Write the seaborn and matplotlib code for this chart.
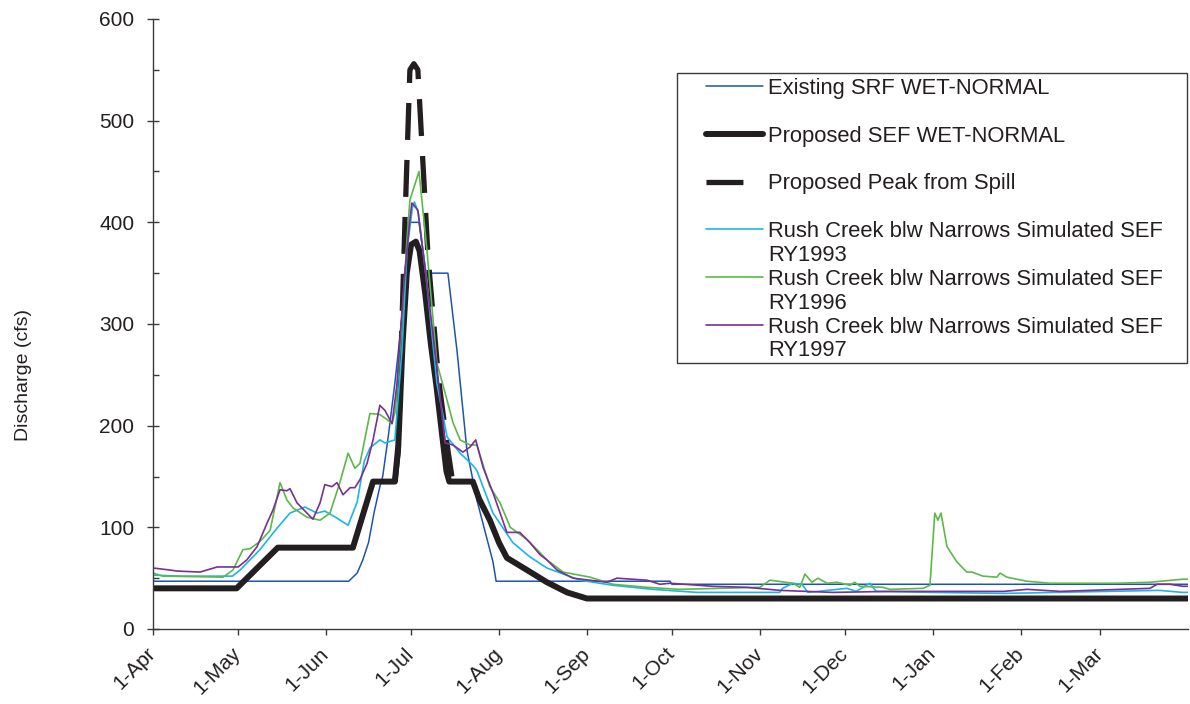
import matplotlib
matplotlib.use("Agg")
import matplotlib.pyplot as plt
import seaborn as sns
import pandas as pd
from matplotlib.lines import Line2D
from matplotlib.patches import Rectangle
from matplotlib.ticker import MultipleLocator

# Day of runoff year (0 = 1-Apr) and discharge (cfs) at the vertices of each hydrograph
existing_days = [0, 69, 72, 74, 76, 78, 80, 81, 83, 85.3, 87, 88.5, 90, 93.8, 96.3, 104,
                 107.2, 110.7, 114.2, 119.9, 121, 182.3, 183, 365]
existing_cfs = [47, 47, 55, 68, 85, 115, 140, 150, 190, 242, 285, 330, 400, 400, 350, 350,
                274, 176, 127, 66, 47, 47, 44, 44]

proposed_days = [0, 29.5, 44, 70.5, 77.6, 85.3, 86.5, 88, 89.5, 91, 92.7, 94, 96, 98, 100,
                 102, 103.5, 104.5, 112.8, 115, 118.8, 122, 124.8, 131.9, 138.9, 146, 153, 365]
proposed_cfs = [40, 40, 80, 80, 145, 145, 180, 280, 350, 378, 381, 372, 330, 280, 238,
                190, 155, 145, 145, 128, 107, 85, 70, 58, 46, 36, 30, 30]

spill_days = [85.3, 86.5, 87.8, 88.9, 90.6, 92, 93.4, 97, 100.1, 101.2, 104, 105.4, 106]
spill_cfs = [145, 175, 301, 405, 550, 556, 550, 366, 265, 235, 176, 150, 145]

ry1993_days = [0, 10, 20, 28, 30.7, 37.7, 43.7, 48.3, 53.6, 57.8, 60.6, 64.9, 68.8, 72,
               74.5, 76.5, 80, 81.8, 85.3, 87.8, 89.6, 91.5, 92.2, 93.5, 94, 96.6, 100.1,
               103.7, 108.3, 112.8, 114.2, 119.9, 126.9, 132.9, 138.9, 150.6, 162.2, 176.3,
               191.8, 221, 222, 225.7, 228.8, 231, 244.7, 248, 252.8, 255, 275, 300, 355,
               363, 365]
ry1993_cfs = [53, 52, 52, 52, 58, 78, 99, 114, 120, 114, 116, 109, 102, 125,
              165, 178, 186, 183, 186, 274, 373, 415, 420, 410, 400, 340, 242,
              189, 173, 161, 156, 114, 85, 71, 60, 48, 43, 39,
              36, 36, 40, 45, 44, 36, 40, 37, 45, 37, 36, 35, 38,
              36, 36]

ry1996_days = [0, 3.5, 24.7, 28.2, 31.7, 34.2, 37.7, 41.3, 44.8, 47.2, 49.4, 54.3, 58.9,
               62.4, 65.9, 68.8, 71.2, 73, 76.5, 80, 82.5, 84.3, 85.5, 87.5, 89.5, 90.6,
               93.8, 96.6, 100.1, 103.7, 105.8, 108.3, 111.8, 114.2, 118.8, 122.4, 126,
               131.9, 136.5, 138.9, 144.6, 154.1, 162.2, 174.2, 185.8, 214, 217.6, 225.7,
               228.1, 229.9, 232.4, 234.5, 237.7, 241.2, 245.8, 247.5, 249.3, 257.4, 259.9,
               271.5, 274, 275.7, 276.8, 277.9, 280, 283.5, 287, 288.8, 292.7, 297.6,
               298.7, 301.1, 308.2, 316.3, 340, 351.6, 363.2, 365]
ry1996_cfs = [55, 52, 51, 58, 78, 79, 86, 97, 144, 127, 119, 110, 107,
              114, 144, 173, 158, 163, 212, 211, 206, 202, 215, 290, 380, 422,
              450, 373, 262, 225, 203, 186, 181, 181, 140, 124, 100,
              88, 75, 68, 56, 51, 44, 41, 39, 41, 48, 45,
              41, 54, 46, 50, 45, 46, 43, 46, 42, 41, 39,
              40, 43, 114, 107, 114, 81, 66, 56, 56, 52, 51,
              55, 51, 47, 45, 45, 46, 49, 49]

ry1997_days = [0, 6, 8.5, 16.6, 22.6, 30, 33.1, 36.7, 40.2, 42.3, 44.8, 47.2, 48.3, 50.8,
               54.3, 56.4, 58.9, 60.6, 63.1, 64.9, 67, 69.5, 71.2, 73, 75.5, 77.6, 80,
               81.8, 84.3, 86, 88.5, 90.5, 91.3, 93.4, 96.6, 100.1, 103, 105.8, 109.3,
               111.8, 113.8, 116.4, 119.9, 124.8, 129.4, 132.9, 136.5, 138.9, 142.5,
               148.1, 160.1, 163.6, 174.2, 178.8, 182.3, 197.5, 209.4, 221.1, 239.8, 260,
               300, 308.2, 320, 351.6, 354.1, 358.7, 363.2, 365]
ry1997_cfs = [60, 58, 57, 56, 61, 61, 68, 81, 104, 117, 137, 136, 138, 124,
              114, 108, 124, 142, 140, 144, 132, 139, 139, 147, 163, 186, 220,
              215, 202, 240, 340, 400, 419, 412, 340, 258, 183, 181, 174,
              179, 186, 159, 134, 95, 95, 85, 73, 68, 58,
              50, 46, 50, 48, 44, 45, 42, 41, 38, 36, 37,
              37, 39, 37, 40, 44, 44, 42, 42]

month_days = [0, 30, 61, 91, 122, 153, 183, 214, 244, 275, 306, 334]
month_labels = ["1-Apr", "1-May", "1-Jun", "1-Jul", "1-Aug", "1-Sep", "1-Oct",
                "1-Nov", "1-Dec", "1-Jan", "1-Feb", "1-Mar"]

label_existing = "Existing SRF WET-NORMAL"
label_proposed = "Proposed SEF WET-NORMAL"
label_spill = "Proposed Peak from Spill"
label_sim = "Rush Creek blw Narrows Simulated SEF"
label_years = ["RY1993", "RY1996", "RY1997"]

C_EXIST = "#1d55ad"
C_BLACK = "#231f20"
C_1993 = "#1cb5e8"
C_1996 = "#5cb947"
C_1997 = "#7b2e96"
AXIS_C = "#3a3a3a"

sns.set_theme(style="ticks")
plt.rcParams["font.family"] = ["Liberation Sans", "DejaVu Sans"]
plt.rcParams["text.color"] = C_BLACK

fig = plt.figure(figsize=(11.9, 7.04), dpi=100)
fig.patch.set_facecolor("white")
ax = fig.add_axes([153 / 1190, 75 / 704, 1035 / 1190, 610 / 704])
ax.set_facecolor("white")

spill_dash = (0, (7, 3.8))
series = [
    (existing_days, existing_cfs, C_EXIST, 1.1, "-"),
    (proposed_days, proposed_cfs, C_BLACK, 4.3, "-"),
    (spill_days, spill_cfs, C_BLACK, 3.8, spill_dash),
    (ry1993_days, ry1993_cfs, C_1993, 1.2, "-"),
    (ry1996_days, ry1996_cfs, C_1996, 1.2, "-"),
    (ry1997_days, ry1997_cfs, C_1997, 1.2, "-"),
]
for days, cfs, color, lw, ls in series:
    df = pd.DataFrame({"day": days, "cfs": cfs})
    sns.lineplot(data=df, x="day", y="cfs", ax=ax, color=color, linewidth=lw,
                 linestyle=ls, estimator=None, sort=False, legend=False,
                 solid_joinstyle="round", solid_capstyle="butt")

ax.set_xlim(0, 365)
ax.set_ylim(0, 600)
ax.set_xlabel("")
ax.set_ylabel("Discharge (cfs)", fontsize=14, color=C_BLACK)
ax.yaxis.set_label_coords(-0.117, 0.416)

ax.yaxis.set_major_locator(MultipleLocator(100))
ax.yaxis.set_minor_locator(MultipleLocator(50))
ax.tick_params(axis="y", which="major", direction="inout", length=9, width=1,
               color=AXIS_C, labelsize=15, labelcolor=C_BLACK, pad=9)
ax.tick_params(axis="y", which="minor", direction="in", length=4, width=1, color=AXIS_C)

ax.set_xticks(month_days)
ax.set_xticklabels(month_labels, rotation=45, ha="right", va="center",
                   rotation_mode="anchor")
ax.tick_params(axis="x", which="major", direction="out", length=4.5, width=1,
               color=AXIS_C, labelsize=15, labelcolor=C_BLACK, pad=11)

sns.despine(ax=ax, top=True, right=True)
for side in ("left", "bottom"):
    ax.spines[side].set_color(AXIS_C)
    ax.spines[side].set_linewidth(1)

# Legend: simulated-series labels wrap onto a second line without a key
blank = Line2D([], [], linestyle="none")
handles = [
    Line2D([], [], color=C_EXIST, lw=1.1), blank,
    Line2D([], [], color=C_BLACK, lw=4.3, solid_capstyle="round"), blank,
    Line2D([], [], color=C_BLACK, lw=3.8, linestyle=spill_dash), blank,
    Line2D([], [], color=C_1993, lw=1.2), blank,
    Line2D([], [], color=C_1996, lw=1.2), blank,
    Line2D([], [], color=C_1997, lw=1.2), blank,
]
labels = [label_existing, " ", label_proposed, " ", label_spill, " ",
          label_sim, label_years[0], label_sim, label_years[1], label_sim, label_years[2]]
leg = fig.legend(handles, labels, loc="upper left",
                 bbox_to_anchor=(706 / 1190, 1 - 78 / 704),
                 frameon=False, fontsize=15.85, borderpad=0, borderaxespad=0,
                 labelspacing=0.13, handlelength=2.6, handletextpad=0.22)
fig.patches.append(Rectangle((677 / 1190, 1 - 363 / 704), 510 / 1190, 290 / 704,
                             transform=fig.transFigure, fill=False,
                             edgecolor=AXIS_C, linewidth=1))

fig.savefig("out.png", dpi=100, facecolor="white")
